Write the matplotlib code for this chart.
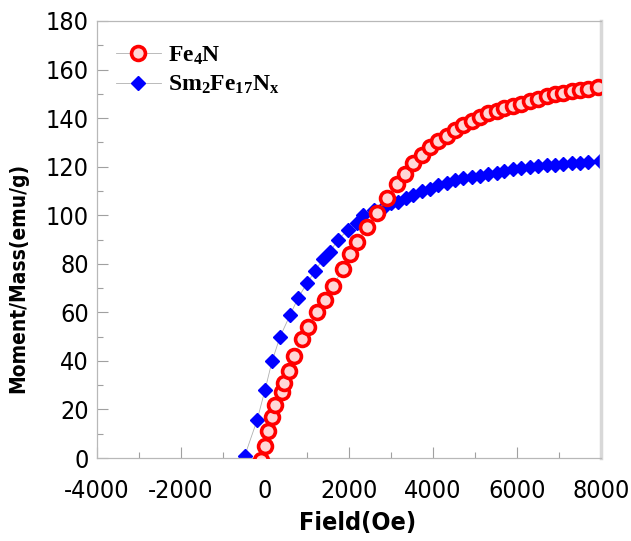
import matplotlib
matplotlib.use('Agg')
from matplotlib import pyplot as plt
from matplotlib.ticker import MultipleLocator

# Fe4N curve
fe4n_field = [-100, 0, 80, 170, 250, 400, 450, 560, 700, 880, 1020, 1240,
              1430, 1620, 1860, 2020, 2190, 2430, 2670, 2900, 3140, 3330,
              3520, 3730, 3930, 4130, 4330, 4520, 4710, 4920, 5120, 5320,
              5520, 5700, 5900, 6100, 6310, 6500, 6710, 6900, 7100, 7300,
              7500, 7700, 7930]
fe4n_moment = [-1, 5, 11, 17, 22, 27, 31, 36, 42, 49, 54, 60,
               65, 71, 78, 84, 89, 95, 101, 107, 113, 117,
               121.5, 125, 128, 130.5, 132.5, 135, 137, 139, 140.5, 142,
               143, 144, 145, 146, 147, 148, 149, 150, 150.5, 151,
               151.5, 152, 153]

# Sm2Fe17Nx curve
smfen_field = [-480, -190, 0, 170, 360, 600, 790, 1000, 1190, 1380, 1550,
               1740, 1980, 2190, 2330, 2600, 2850, 3000, 3170, 3350, 3520,
               3730, 3930, 4130, 4330, 4520, 4710, 4920, 5120, 5320, 5520,
               5700, 5900, 6100, 6310, 6500, 6710, 6900, 7100, 7300, 7500,
               7700, 7980]
smfen_moment = [1, 15.5, 28, 40, 50, 59, 66, 72, 77, 82, 85,
                90, 94, 97, 100, 102, 104, 105, 105.6, 107, 108.3,
                109.8, 111, 112.3, 113.4, 114.4, 115.2, 115.7, 116.1, 116.9, 117.5,
                118.2, 118.9, 119.3, 119.7, 120.1, 120.5, 120.8, 121.1, 121.4, 121.6,
                122, 122.5]

xticks = [-4000, -2000, 0, 2000, 4000, 6000, 8000]
yticks = [0, 20, 40, 60, 80, 100, 120, 140, 160, 180]

plt.rcParams['axes.unicode_minus'] = False
plt.rcParams['mathtext.fontset'] = 'custom'
plt.rcParams['mathtext.rm'] = 'Liberation Serif:bold'
plt.rcParams['mathtext.it'] = 'Liberation Serif:bold'
plt.rcParams['mathtext.bf'] = 'Liberation Serif:bold'

fig = plt.figure(figsize=(6.31, 5.41), dpi=100)
ax = fig.add_axes([0.1537, 0.1534, 0.7988, 0.8078])

ax.plot(smfen_field, smfen_moment, color='#b0b0b0', lw=0.6, marker='D',
        ms=7, mfc='#0000ff', mec='#0000ff', label=r'Sm$_2$Fe$_{17}$N$_x$',
        zorder=2)
ax.plot(fe4n_field, fe4n_moment, color='#b0b0b0', lw=0.6, marker='o',
        ms=10, mfc='#ffd6d6', mec='#ff0000', mew=2.6, label=r'Fe$_4$N',
        zorder=3)

ax.set_xlim(-4000, 8000)
ax.set_ylim(0, 180)
ax.set_xticks(xticks)
ax.set_yticks(yticks)
ax.xaxis.set_minor_locator(MultipleLocator(1000))
ax.yaxis.set_minor_locator(MultipleLocator(10))
ax.tick_params(which='both', direction='in', color='#a0a0a0', width=0.8)
ax.tick_params(which='major', length=8, labelsize=18)
ax.tick_params(axis='x', which='major', pad=15)
ax.tick_params(axis='y', which='major', pad=6)
ax.tick_params(which='minor', length=4)
for lab in ax.get_xticklabels() + ax.get_yticklabels():
    lab.set_family('DejaVu Sans')
    lab.set_stretch('condensed')

for side in ['left', 'bottom', 'top']:
    ax.spines[side].set_color('#b8b8b8')
    ax.spines[side].set_linewidth(0.9)
ax.spines['right'].set_color('#d8d8d8')
ax.spines['right'].set_linewidth(2.5)

ax.set_xlabel('Field(Oe)', family='DejaVu Sans', stretch='condensed',
              fontsize=18, fontweight='bold')
ax.set_ylabel('Moment/Mass(emu/g)', family='DejaVu Sans',
              stretch='condensed', fontsize=15, fontweight='bold')
ax.xaxis.set_label_coords(0.516, -0.121)
ax.yaxis.set_label_coords(-0.137, 0.412)

handles, labels = ax.get_legend_handles_labels()
leg = ax.legend(handles[::-1], labels[::-1], loc='upper left',
                bbox_to_anchor=(-0.005, 0.995), frameon=False,
                handlelength=1.9, handletextpad=0.3, labelspacing=0.3,
                prop={'family': 'Liberation Serif', 'weight': 'bold',
                      'size': 17})

fig.savefig('out.png', dpi=100)
